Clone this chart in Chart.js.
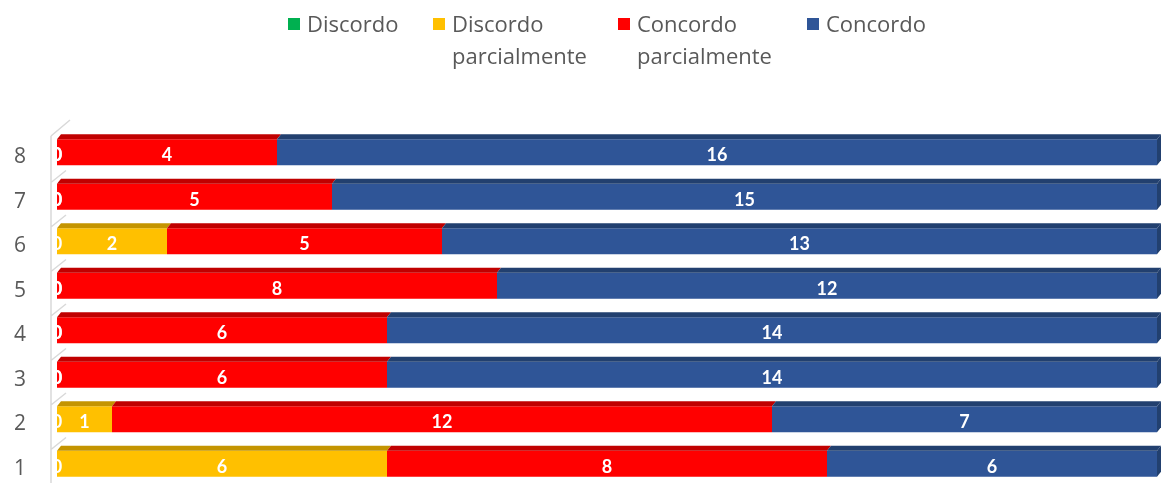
<!DOCTYPE html>
<html>
<head>
<meta charset="utf-8">
<script src="https://cdn.jsdelivr.net/npm/chart.js@4.4.1/dist/chart.umd.min.js"></script>
<style>
  body { margin: 0; background: #fff; overflow: hidden; }
  #wrap { position: relative; width: 1161px; height: 483px; overflow: hidden; }
  #chart { position: absolute; left: 0; top: 0; width: 1161px; height: 490px; }
  .leg { position: absolute; top: 7px; font-family: "Open Sans", sans-serif; font-size: 22px;
         line-height: 32px; color: #595959; }
  .leg i { position: absolute; left: -19px; top: 11px; width: 12px; height: 12px; }
</style>
</head>
<body>
<div id="wrap">
  <canvas id="chart" width="1161" height="490"></canvas>
  <div id="legend"></div>
</div>
<script>
// categories and values (bottom row is "1")
let rows = ["1", "2", "3", "4", "5", "6", "7", "8"];
let discordo = [0, 0, 0, 0, 0, 0, 0, 0];
let discordoParc = [6, 1, 0, 0, 0, 2, 0, 0];
let concordoParc = [8, 12, 6, 6, 8, 5, 5, 4];
let concordo = [6, 7, 14, 14, 12, 13, 15, 16];

let names = ["Discordo", "Discordo\nparcialmente", "Concordo\nparcialmente", "Concordo"];
let colors = ["#00b050", "#ffc000", "#ff0000", "#2f5597"];
let tops = ["#008a3e", "#c49400", "#c00000", "#22406f"];
let legendX = [307, 452, 637, 826];

// html legend (two-line labels)
const legend = document.getElementById("legend");
names.forEach((n, i) => {
  const d = document.createElement("div");
  d.className = "leg";
  d.style.left = legendX[i] + "px";
  d.innerHTML = '<i style="background:' + colors[i] + '"></i>' + n.replace("\n", "<br>");
  legend.appendChild(d);
});

// fake 3d: top and right faces of every bar
const faces = {
  id: "faces",
  beforeDatasetsDraw(chart) {
    const ctx = chart.ctx;
    const a = chart.chartArea;
    ctx.save();
    ctx.strokeStyle = "#d9d9d9";
    ctx.lineWidth = 1.5;
    ctx.beginPath();
    ctx.moveTo(51, a.top + 6);
    ctx.lineTo(51, a.bottom);
    ctx.moveTo(51, a.top + 6);
    ctx.lineTo(70, a.top - 10);
    const band = (a.bottom - a.top) / rows.length;
    for (let k = 1; k < rows.length; k++) {
      const y = a.top + band * k;
      ctx.moveTo(51, y + 8);
      ctx.lineTo(66, y - 4);
    }
    ctx.stroke();
    ctx.restore();
  },
  afterDatasetsDraw(chart) {
    const ctx = chart.ctx;
    const d = 4, h = 5;
    ctx.save();
    chart.data.datasets.forEach((ds, i) => {
      const meta = chart.getDatasetMeta(i);
      meta.data.forEach((bar, j) => {
        if (!ds.data[j]) return;
        const p = bar.getProps(["x", "y", "base", "height"], true);
        const l = Math.min(p.base, p.x), r = Math.max(p.base, p.x);
        const t = p.y - p.height / 2, b = p.y + p.height / 2;
        ctx.fillStyle = tops[i];
        ctx.beginPath();
        ctx.moveTo(l, t);
        ctx.lineTo(l + d, t - h);
        ctx.lineTo(r + d, t - h);
        ctx.lineTo(r, t);
        ctx.closePath();
        ctx.fill();
        if (i === chart.data.datasets.length - 1) {
          ctx.beginPath();
          ctx.moveTo(r, t);
          ctx.lineTo(r + d, t - h);
          ctx.lineTo(r + d, b - h);
          ctx.lineTo(r, b);
          ctx.closePath();
          ctx.fill();
        }
      });
    });
    ctx.restore();
  },
};

// value labels in the middle of each segment
const labels = {
  id: "labels",
  afterDatasetsDraw(chart) {
    const ctx = chart.ctx;
    const a = chart.chartArea;
    ctx.save();
    ctx.beginPath();
    ctx.rect(a.left, a.top - 10, a.right - a.left + 10, a.bottom - a.top + 10);
    ctx.clip();
    ctx.fillStyle = "#fff";
    ctx.font = "bold 18px Lato, sans-serif";
    ctx.textAlign = "center";
    ctx.textBaseline = "middle";
    chart.data.datasets.forEach((ds, i) => {
      chart.getDatasetMeta(i).data.forEach((bar, j) => {
        const p = bar.getProps(["x", "y", "base"], true);
        ctx.fillText(String(ds.data[j]), (p.x + p.base) / 2, p.y + 3);
      });
    });
    ctx.restore();
  },
};

new Chart(document.getElementById("chart"), {
  type: "bar",
  data: {
    labels: rows,
    datasets: [discordo, discordoParc, concordoParc, concordo].map((v, i) => ({
      label: names[i],
      data: v,
      backgroundColor: colors[i],
      borderWidth: 0,
      barPercentage: 0.58,
      categoryPercentage: 1,
    })),
  },
  options: {
    indexAxis: "y",
    responsive: false,
    maintainAspectRatio: false,
    animation: false,
    layout: { padding: { top: 130, right: 4, bottom: 4, left: 0 } },
    plugins: { legend: { display: false }, tooltip: { enabled: false } },
    scales: {
      x: { stacked: true, min: 0, max: 20, display: false },
      y: {
        stacked: true,
        reverse: true,
        grid: { display: false, drawTicks: false },
        border: { display: false },
        afterFit(scale) {
          scale.width = 57;
          scale.paddingTop = 0;
          scale.paddingBottom = 0;
        },
        ticks: { padding: 31, labelOffset: 5, color: "#595959", font: { family: "Open Sans", size: 21 } },
      },
    },
  },
  plugins: [faces, labels],
});
</script>
</body>
</html>
